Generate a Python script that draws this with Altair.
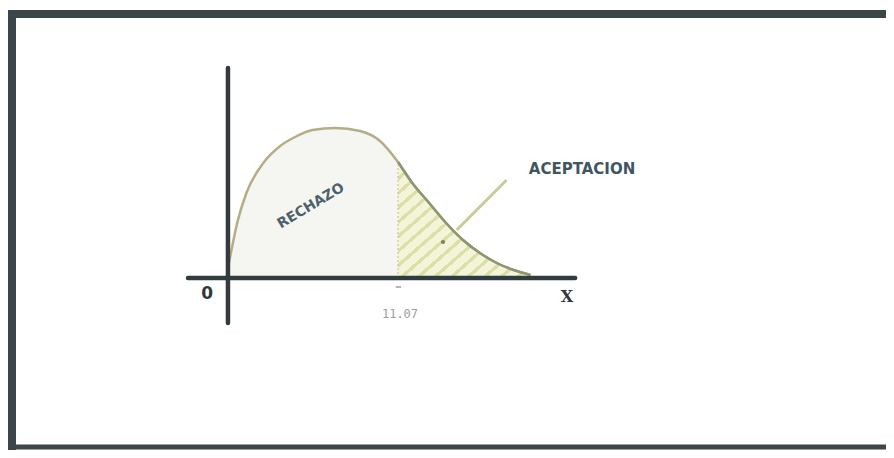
import altair as alt
import pandas as pd

# ---- data ----
curve_x = [0, 0.65, 1.2, 2.3, 3.4, 4.5, 5.5, 7.0, 8.6, 9.9, 11.07, 12.0, 13.1, 14.2, 15.3, 16.4, 17.5, 18.6, 19.7]
curve_y = [0.01, 0.058, 0.085, 0.115, 0.132, 0.142, 0.148, 0.150, 0.147, 0.137, 0.116, 0.095, 0.075, 0.055, 0.038, 0.025, 0.015, 0.008, 0.003]
critical_value = 11.07
critical_label = "11.07"
reject_label = "RECHAZO"
accept_label = "ACEPTACION"
origin_label = "0"
x_label = "X"

# axis line extents (data units)
h_axis_x = [-2.6, 22.6]
v_axis_y = [-0.045, 0.210]
# pointer from the ACEPTACION label into the shaded area
pointer_x = [18.14, 14.89]
pointer_y = [0.098, 0.048]
dot_x = [14.0]
dot_y = [0.036]

W, H = 878, 442
x_domain = [-14.32, 42.84]
y_domain = [-0.172, 0.270]

xs = alt.Scale(domain=x_domain, nice=False, zero=False)
ys = alt.Scale(domain=y_domain, nice=False, zero=False)

def X(f="x"):
    return alt.X(f, type="quantitative", scale=xs, axis=None)

def Y(f="y"):
    return alt.Y(f, type="quantitative", scale=ys, axis=None)

curve = pd.DataFrame({"x": curve_x, "y": curve_y})
curve["base"] = 0.0
left = curve[curve.x <= critical_value]
right = curve[curve.x >= critical_value]

# hatch as a striped linear gradient
N = 16
stripe, bg = "#dcdfa6", "#f3f4d8"
stops = []
for i in range(N):
    a = i / N
    b = (i + 0.3) / N
    c = (i + 1) / N
    stops += [alt.GradientStop(color=stripe, offset=a), alt.GradientStop(color=stripe, offset=b),
              alt.GradientStop(color=bg, offset=b), alt.GradientStop(color=bg, offset=c)]
hatch = alt.Gradient(gradient="linear", stops=stops, x1=0, y1=0, x2=1, y2=1)

left_area = alt.Chart(left).mark_area(color="#f5f5f2", opacity=1, interpolate="monotone").encode(
    x=X(), y=Y(), y2=alt.Y2("base"))
right_area = alt.Chart(right).mark_area(fill=hatch, opacity=1, interpolate="monotone").encode(
    x=X(), y=Y(), y2=alt.Y2("base"))

crit = pd.DataFrame({"x": [critical_value], "y": [0.0], "y2": [curve_y[curve_x.index(critical_value)]]})
crit_line = alt.Chart(crit).mark_rule(color="#cbb99a", strokeWidth=1, strokeDash=[2, 2]).encode(
    x=X(), y=Y(), y2=alt.Y2("y2"))

line_all = alt.Chart(curve).mark_line(color="#b4ad86", strokeWidth=2.5, interpolate="monotone").encode(
    x=X(), y=Y())
line_right = alt.Chart(right).mark_line(color="#8f9472", strokeWidth=2.5, interpolate="monotone").encode(
    x=X(), y=Y())

axes = pd.DataFrame({
    "x": [h_axis_x[0], 0.0], "x2": [h_axis_x[1], 0.0],
    "y": [0.0, v_axis_y[0]], "y2": [0.0, v_axis_y[1]],
})
axis_lines = alt.Chart(axes).mark_rule(color="#323c3f", strokeWidth=4.5, strokeCap="round").encode(
    x=X(), x2=alt.X2("x2"), y=Y(), y2=alt.Y2("y2"))

pointer = pd.DataFrame({"x": [pointer_x[0]], "x2": [pointer_x[1]], "y": [pointer_y[0]], "y2": [pointer_y[1]]})
pointer_line = alt.Chart(pointer).mark_rule(color="#c9cc98", strokeWidth=3).encode(
    x=X(), x2=alt.X2("x2"), y=Y(), y2=alt.Y2("y2"))
dot = alt.Chart(pd.DataFrame({"x": dot_x, "y": dot_y})).mark_circle(color="#7d8060", size=18, opacity=1).encode(
    x=X(), y=Y())

tick = pd.DataFrame({"x": [critical_value - 0.15], "x2": [critical_value + 0.2], "y": [-0.009]})
tick_mark = alt.Chart(tick).mark_rule(color="#9a9e9e", strokeWidth=1.5).encode(
    x=X(), x2=alt.X2("x2"), y=Y())

def label(text, x, y, **kw):
    return alt.Chart(pd.DataFrame({"x": [x], "y": [y], "t": [text]})).mark_text(**kw).encode(
        x=X(), y=Y(), text="t:N")

t_reject = label(reject_label, 5.40, 0.072, angle=329, font="DejaVu Sans", fontSize=14,
                 fontWeight="bold", color="#4d606b", align="center", baseline="middle")
t_accept = label(accept_label, 23.05, 0.109, font="DejaVu Sans", fontSize=15,
                 fontWeight="bold", color="#3f5661", align="center", baseline="middle")
t_zero = label(origin_label, -1.35, -0.016, font="DejaVu Sans", fontSize=17,
               fontWeight="bold", color="#2f383b", align="center", baseline="middle")
t_x = label(x_label, 22.07, -0.019, font="DejaVu Serif", fontSize=16,
            fontWeight="bold", color="#2f383b", align="center", baseline="middle")
t_crit = label(critical_label, 11.2, -0.036, font="DejaVu Sans Mono", fontSize=12,
               color="#9aa0a0", align="center", baseline="middle")

frame_df = pd.DataFrame({"k": [0]})
border_color = "#3c4548"
b_left = alt.Chart(frame_df).mark_rule(color=border_color, strokeWidth=8).encode(
    x=alt.value(4), y=alt.value(2), y2=alt.value(H))
b_top = alt.Chart(frame_df).mark_rule(color=border_color, strokeWidth=8).encode(
    y=alt.value(6), x=alt.value(0), x2=alt.value(W))
b_bottom = alt.Chart(frame_df).mark_rule(color=border_color, strokeWidth=5).encode(
    y=alt.value(H - 3), x=alt.value(0), x2=alt.value(W))

chart = alt.layer(
    left_area, right_area, crit_line, line_all, line_right, pointer_line, dot,
    axis_lines, tick_mark, t_reject, t_accept, t_zero, t_x, t_crit,
    b_left, b_top, b_bottom,
).properties(
    width=W, height=H, padding=0, background="white",
    autosize=alt.AutoSizeParams(type="none"),
).configure_view(stroke=None)

chart.save("out.html", embed_options={"renderer": "svg", "actions": False})
